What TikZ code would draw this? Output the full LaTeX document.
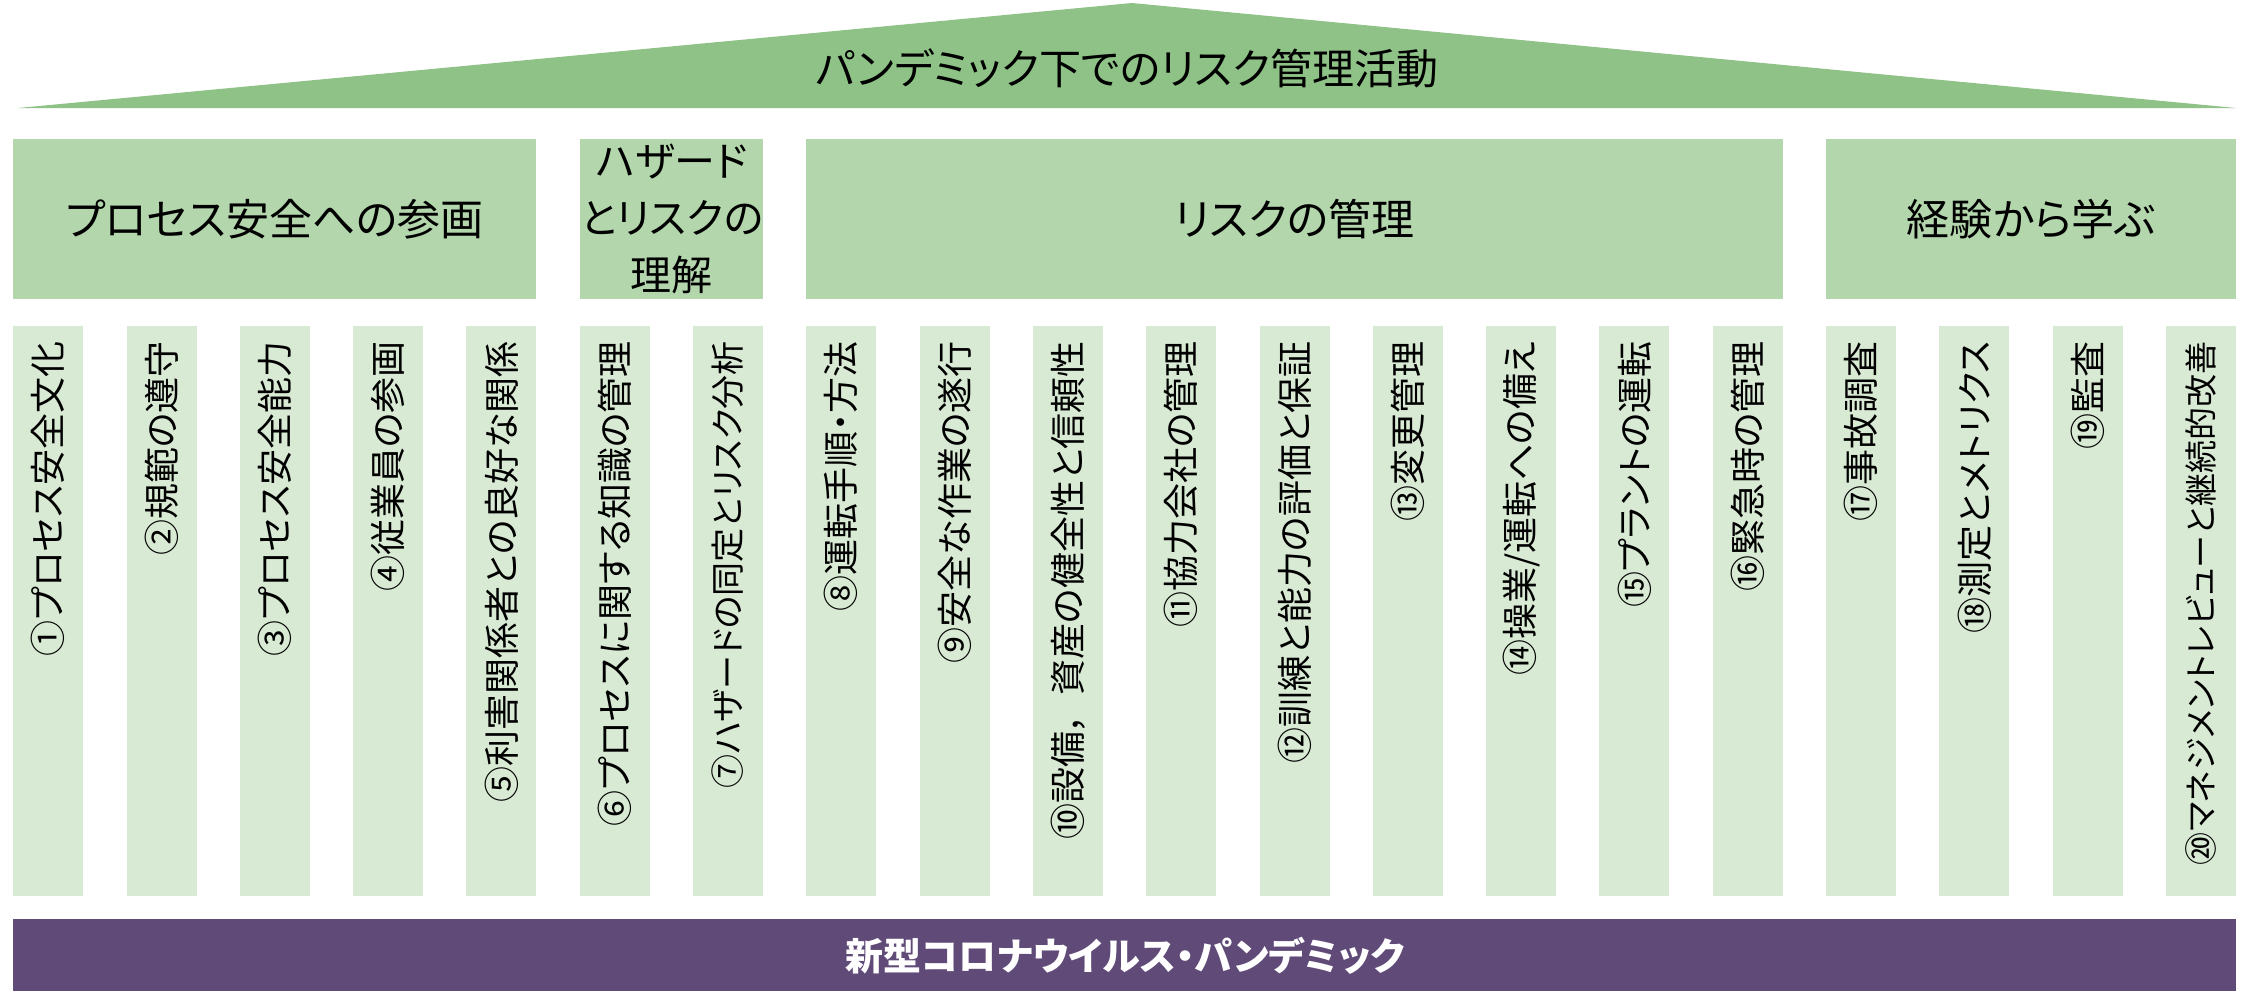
\documentclass[tikz,border=0pt]{standalone}
\usepackage{fontspec}
\setmainfont{Noto Sans CJK JP}[RawFeature={+palt}]
\begin{document}
\begin{tikzpicture}[x=1pt,y=-1pt,
  roof/.style={fill=roofgreen,draw=none},
  catbox/.style={fill=catgreen,draw=none,rectangle,inner sep=0pt,anchor=north west,minimum height=160pt},
  cattext/.style={inner sep=0pt,align=center,font=\fontsize{43}{57}\selectfont},
  colbox/.style={fill=colgreen,draw=none,rectangle,inner sep=0pt,anchor=north west,minimum width=70pt,minimum height=570pt},
  coltext/.style={rotate=90,anchor=east,inner sep=0pt,font=\fontsize{36}{40}\selectfont},
  basebox/.style={fill=basepurple,draw=none,rectangle,inner sep=0pt,anchor=north west,minimum width=2223pt,minimum height=72pt},
]
\definecolor{roofgreen}{HTML}{8FC286}
\definecolor{catgreen}{HTML}{B3D6AC}
\definecolor{colgreen}{HTML}{D9EAD4}
\definecolor{basepurple}{HTML}{604A78}
\useasboundingbox (0,0) rectangle (2244,991);
% roof
\coordinate (rl) at (18,108);
\coordinate (rt) at (1132,3);
\coordinate (rr) at (2236,108);
\fill[roof] (rl) -- (rt) -- (rr) -- cycle;
\node[font=\fontsize{42}{48}\selectfont,inner sep=0pt] (title) at (1127,68) {パンデミック下でのリスク管理活動};
% category boxes
\node[catbox,minimum width=523pt] (k1) at (13,139) {};
\node[cattext] (k1t) at (k1.center) {プロセス安全への参画};
\node[catbox,minimum width=183pt] (k2) at (580,139) {};
\node[cattext,font=\fontsize{41}{57}\selectfont] (k2t) at (k2.center) {ハザード\\とリスクの\\理解};
\node[catbox,minimum width=977pt] (k3) at (806,139) {};
\node[cattext] (k3t) at (k3.center) {リスクの管理};
\node[catbox,minimum width=410pt] (k4) at (1826,139) {};
\node[cattext] (k4t) at (k4.center) {経験から学ぶ};
% columns
\newcommand\pillar[3][36]{%
  \node[colbox] (c#2) at ({13+(#2-1)*113.3},326) {};
  \node[coltext,font=\fontsize{#1}{40}\selectfont] (t#2) at ([yshift=-15pt]c#2.north) {#3};
}
\pillar{1}{①プロセス安全文化}
\pillar{2}{②規範の遵守}
\pillar{3}{③プロセス安全能力}
\pillar{4}{④従業員の参画}
\pillar{5}{⑤利害関係者との良好な関係}
\pillar{6}{⑥プロセスに関する知識の管理}
\pillar[34]{7}{⑦ハザードの同定とリスク分析}
\pillar{8}{⑧運転手順・方法}
\pillar{9}{⑨安全な作業の遂行}
\pillar{10}{⑩設備，\hspace{0.5em}資産の健全性と信頼性}
\pillar{11}{⑪協力会社の管理}
\pillar{12}{⑫訓練と能力の評価と保証}
\pillar{13}{⑬変更管理}
\pillar{14}{⑭操業/運転への備え}
\pillar{15}{⑮プラントの運転}
\pillar{16}{⑯緊急時の管理}
\pillar{17}{⑰事故調査}
\pillar{18}{⑱測定とメトリクス}
\pillar{19}{⑲監査}
\pillar[33]{20}{⑳マネジメントレビューと継続的改善}
% base
\node[basebox] (base) at (13,919) {};
\node[text=white,font=\bfseries\fontsize{38}{44}\selectfont,inner sep=0pt] (baset) at (1125,956) {新型コロナウイルス・パンデミック};
\end{tikzpicture}
\end{document}
